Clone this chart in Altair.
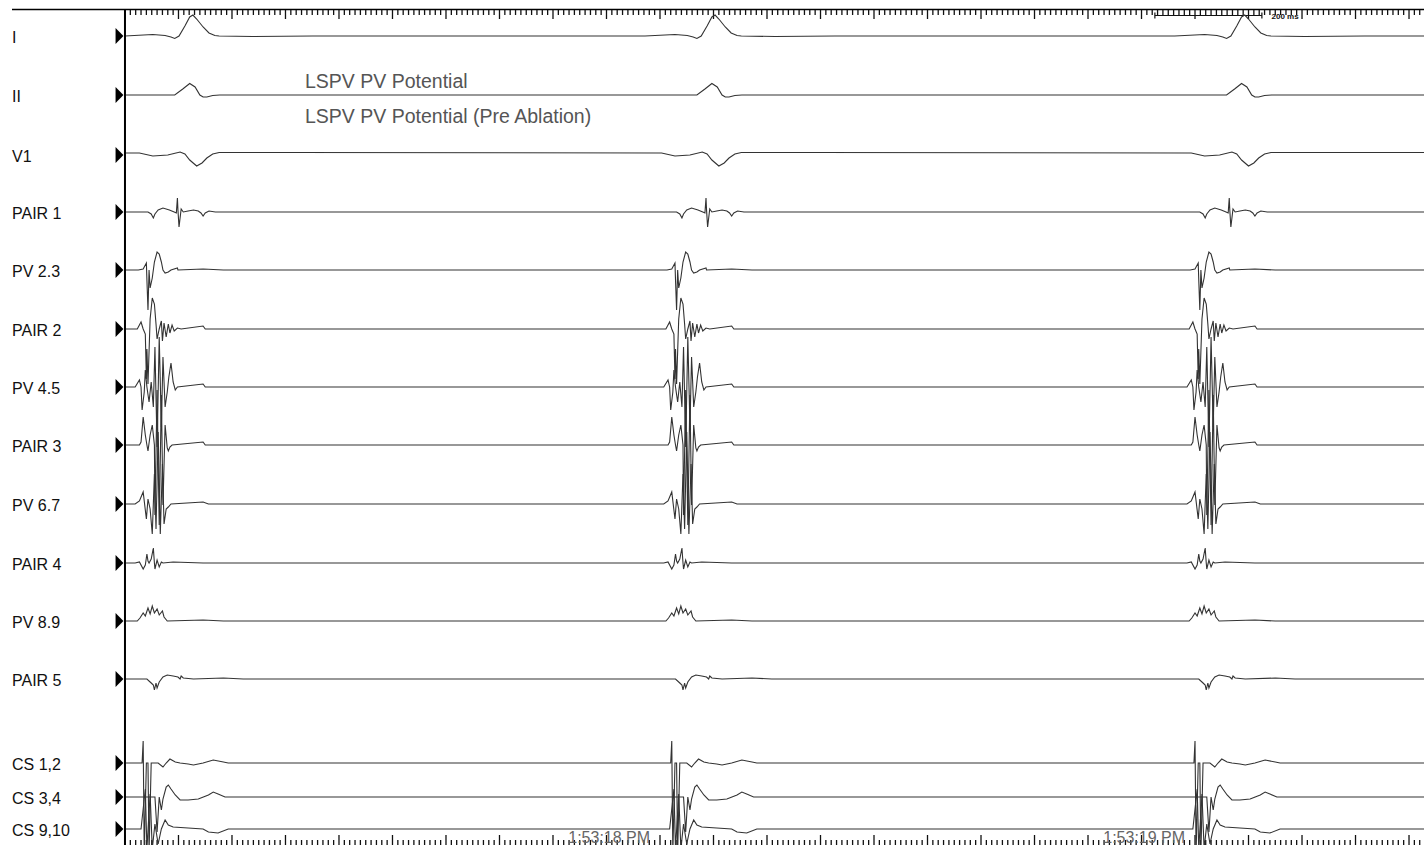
import altair as alt
import pandas as pd

# ---------------- data ----------------
channels = ["I", "II", "V1", "PAIR 1", "PV 2.3", "PAIR 2", "PV 4.5", "PAIR 3",
            "PV 6.7", "PAIR 4", "PV 8.9", "PAIR 5", "CS 1,2", "CS 3,4", "CS 9,10"]
surface = {"I", "II", "V1"}

# beat reference times (ms from start of the sweep)
surface_beats_ms = [127, 1103, 2093]
intracardiac_beats_ms = [34, 1022, 2000]
record_ms = [0, 2428]

# per-channel beat templates: time offset (ms) and deflection
lead_I_ms = [-131, -75, -52, -41, -34, -26, -15, -6, 0, 7, 19, 30, 41, 49, 112, 224]
lead_I_amp = [0, 1.5, 0.5, -1, -2.5, 0, 10, 19, 21, 17, 9, 3, 0.5, 0, -0.5, 0]

lead_II_ms = [-56, -34, -19, -6, 4, 13, 19, 26, 37, 50]
lead_II_amp = [0, 0, 6, 11.5, 8, 0, -2, -2, -0.5, 0]

V1_ms = [-100, -75, -47, -24, -15, -6, 7, 17, 26, 37, 49, 187]
V1_amp = [2, -1, 0, 3, 1, -5, -11, -8, -3, 1, 2.5, 2.5]

pair1_ms = [-37, 9, 15, 19, 22, 28, 37, 49, 58, 62, 64, 65, 67, 71, 75, 84, 94, 103, 108, 112, 116, 123, 135]
pair1_amp = [0, 0, -2, -6, -2, 2, 4, 2, 0, -1, 14, 2, -15, 3, 0, 1, 2, 1, -1, -4, -1, 1, 0]

pv23_ms = [-9, 0, 6, 7, 9, 11, 13, 17, 21, 26, 30, 34, 37, 41, 47, 52, 64, 65, 112, 150]
pv23_amp = [0, 1, 7, -10, -40, 0, -18, -8, 8, 18, 16, 8, 0, -3, -2, 0, 2, 0, 1, 0]

pair2_ms = [-11, -4, 0, 4, 6, 7, 9, 13, 17, 21, 24, 26, 30, 34, 36, 39, 43, 47, 50, 54, 58, 64, 71, 112, 116, 168]
pair2_amp = [0, 7, 0, -5, -50, -20, -55, 10, 31, 25, 5, -10, 0, 8, -12, 6, -8, 5, -4, 4, -2, 1, 0, 3, 0, 0]

pv45_ms = [-15, -7, -4, -2, 2, 4, 7, 11, 15, 19, 22, 26, 30, 34, 37, 41, 45, 48, 52, 56, 60, 64, 112, 116, 168]
pv45_amp = [0, 7, 0, -23, -5, 17, 0, -15, 5, -20, 40, -60, 50, -40, 30, -20, -5, 10, 24, 5, -3, 0, 3, 0, 0]

pair3_ms = [-7, -4, 0, 4, 7, 9, 13, 17, 21, 22, 26, 30, 34, 37, 41, 45, 47, 50, 54, 112, 116, 168]
pair3_amp = [0, 3, 28, 10, 0, -6, 10, 20, 0, -70, 55, -80, 50, -60, 20, -3, -6, -2, 0, 3, 0, 0]

pv67_ms = [-15, -7, 0, 6, 9, 13, 17, 21, 24, 28, 32, 36, 39, 43, 47, 52, 112, 122, 168]
pv67_amp = [0, 3, 12, -15, 5, -5, -30, 30, -25, 72, -30, 40, -20, -5, -3, 0, 2, 0, 0]

pair4_ms = [-15, -7, 0, 4, 7, 9, 11, 15, 19, 21, 22, 26, 30, 34, 37, 56, 112]
pair4_amp = [0, 1, -6, -2, 9, 2, 0, 4, 15, 0, -6, 3, -4, 1, 0, 1, 0]

pv89_ms = [-11, -6, 0, 4, 9, 13, 17, 21, 26, 30, 36, 39, 45, 112, 150]
pv89_amp = [0, 3, 8, 5, 13, 7, 15, 8, 12, 6, 10, 4, 0, 1, 0]

pair5_ms = [-9, 7, 15, 19, 21, 24, 26, 30, 37, 45, 56, 65, 69, 71, 75, 94, 150, 187]
pair5_amp = [0, 0, -4, -6, -11, -4, -9, -3, 2, 4, 3, 2, 0, 3, 1, 0, 1, 0]

cs12_ms = [-19, -2, 0, 2, 6, 9, 11, 15, 28, 37, 43, 50, 60, 69, 84, 94, 112, 131, 150, 159, 224]
cs12_amp = [0, 0, 22, -90, 0, 0, -90, 0, 0, -4, 0, 4, 1, 0, -1, -2, 0, 3, 1, 0, 0]

cs34_ms = [-19, 22, 26, 30, 34, 37, 43, 47, 52, 60, 69, 84, 103, 122, 131, 140, 153, 224]
cs34_amp = [0, 0, -35, 0, -13, -2, 10, 12, 8, 2, -3, -3, -2, 2, 5, 3, 0, 0]

cs910_ms = [-19, -4, 4, 7, 13, 17, 22, 28, 34, 41, 47, 56, 84, 112, 122, 140, 159, 224]
cs910_amp = [0, 0, 40, -20, 35, -20, 5, -15, 0, 9, 4, 2, 1, 0, -3, -4, 0, 0]

templates = {
    "I": (lead_I_ms, lead_I_amp), "II": (lead_II_ms, lead_II_amp), "V1": (V1_ms, V1_amp),
    "PAIR 1": (pair1_ms, pair1_amp), "PV 2.3": (pv23_ms, pv23_amp), "PAIR 2": (pair2_ms, pair2_amp),
    "PV 4.5": (pv45_ms, pv45_amp), "PAIR 3": (pair3_ms, pair3_amp), "PV 6.7": (pv67_ms, pv67_amp),
    "PAIR 4": (pair4_ms, pair4_amp), "PV 8.9": (pv89_ms, pv89_amp), "PAIR 5": (pair5_ms, pair5_amp),
    "CS 1,2": (cs12_ms, cs12_amp), "CS 3,4": (cs34_ms, cs34_amp), "CS 9,10": (cs910_ms, cs910_amp),
}

# ruler / annotation data
clock_labels = ["1:53:18 PM", "1:53:19 PM"]
clock_label_ms = [905, 1905]
scale_bar_ms = [1925, 2125]
scale_bar_label = "200 ms"
annotations = ["LSPV PV Potential", "LSPV PV Potential (Pre Ablation)"]

# ---------------- layout ----------------
W, H = 1424, 845
row_y = [36, 95, 155, 212, 270, 329, 387, 445, 504, 563, 621, 679, 763, 797, 829]
x_scale = alt.Scale(domain=[-233.6, 2428.0], nice=False, zero=False)
y_scale = alt.Scale(domain=[0, H], reverse=True, nice=False, zero=False)
FONT = "Liberation Sans"

rows = []
for ci, ch in enumerate(channels):
    base = row_y[ci]
    dts, amps = templates[ch]
    beats = surface_beats_ms if ch in surface else intracardiac_beats_ms
    pts = [(record_ms[0], amps[0])]
    for b in beats:
        for dt, a in zip(dts, amps):
            t = b + dt
            if record_ms[0] < t < record_ms[1]:
                pts.append((t, a))
    pts.append((record_ms[1], amps[-1]))
    pts.sort(key=lambda p: p[0])
    for k, (t, a) in enumerate(pts):
        rows.append({"channel": ch, "seq": k, "t": t, "y": base - a})
trace_df = pd.DataFrame(rows)

traces = alt.Chart(trace_df).mark_line(color="#333333", strokeWidth=1.1, clip=True).encode(
    x=alt.X("t:Q", scale=x_scale, axis=None),
    y=alt.Y("y:Q", scale=y_scale, axis=None),
    detail="channel:N",
    order="seq:Q",
)

label_df = pd.DataFrame({"channel": channels, "y": row_y})
labels = alt.Chart(label_df).mark_text(align="left", baseline="middle", font=FONT,
                                       fontSize=16, color="#111111", dy=1.5).encode(
    x=alt.value(12), y=alt.Y("y:Q", scale=y_scale, axis=None), text="channel:N")

arrow_shape = "M -0.5 -1 L 0.5 0 L -0.5 1 Z"
arrows = alt.Chart(label_df).mark_point(shape=arrow_shape, filled=True, color="#000000",
                                        size=250, opacity=1).encode(
    x=alt.value(119.5), y=alt.Y("y:Q", scale=y_scale, axis=None))

one = pd.DataFrame({"a": [0]})
vaxis = alt.Chart(one).mark_rule(color="#000000", strokeWidth=2).encode(
    x=alt.datum(0, scale=x_scale), y=alt.value(10), y2=alt.value(H))
top_line = alt.Chart(one).mark_rule(color="#000000", strokeWidth=1.6).encode(
    x=alt.value(12), x2=alt.value(W), y=alt.value(9.5))

tick_t = list(range(0, record_ms[1] + 1, 10))
tick_df = pd.DataFrame({"t": tick_t, "major": [t % 100 == 0 for t in tick_t]})
minor_df = tick_df[~tick_df["major"]]
major_df = tick_df[tick_df["major"]]

def ruler(df, y0, y1):
    return alt.Chart(df).mark_rule(color="#111111", strokeWidth=1.3).encode(
        x=alt.X("t:Q", scale=x_scale, axis=None), y=alt.value(y0), y2=alt.value(y1))

top_minor = ruler(minor_df, 10, 15)
top_major = ruler(major_df, 10, 19)
bot_minor = ruler(minor_df, 840, H)
bot_major = ruler(major_df, 835, H)

clock_df = pd.DataFrame({"t": clock_label_ms, "label": clock_labels})
clock = alt.Chart(clock_df).mark_text(font=FONT, fontSize=16, color="#666666",
                                      align="center", baseline="alphabetic").encode(
    x=alt.X("t:Q", scale=x_scale, axis=None), y=alt.value(843), text="label:N")

bar_df = pd.DataFrame({"t0": [scale_bar_ms[0]], "t1": [scale_bar_ms[1]]})
bar = alt.Chart(bar_df).mark_rule(color="#111111", strokeWidth=1.2).encode(
    x=alt.X("t0:Q", scale=x_scale, axis=None), x2="t1:Q", y=alt.value(15.5))
cap_df = pd.DataFrame({"t": scale_bar_ms})
caps = alt.Chart(cap_df).mark_rule(color="#111111", strokeWidth=1.2).encode(
    x=alt.X("t:Q", scale=x_scale, axis=None), y=alt.value(12.5), y2=alt.value(18.5))
bar_text = alt.Chart(pd.DataFrame({"t": [scale_bar_ms[1] + 18], "label": [scale_bar_label]})).mark_text(
    font=FONT, fontSize=8, fontWeight="bold", color="#111111", align="left", baseline="middle").encode(
    x=alt.X("t:Q", scale=x_scale, axis=None), y=alt.value(17), text="label:N")

ann_df = pd.DataFrame({"label": annotations, "y": [88, 123]})
ann = alt.Chart(ann_df).mark_text(font=FONT, fontSize=19.5, color="#555555", align="left",
                                  baseline="alphabetic").encode(
    x=alt.value(305), y=alt.Y("y:Q", scale=y_scale, axis=None), text="label:N")

chart = alt.layer(
    top_line, top_minor, top_major, bot_minor, bot_major, clock,
    bar, caps, bar_text, ann, traces, vaxis, arrows, labels,
).properties(
    width=W, height=H, padding=0, autosize=alt.AutoSizeParams(type="none"),
    background="white",
).configure_view(stroke=None)

chart.save("out.html", embed_options={"renderer": "svg", "actions": False})
